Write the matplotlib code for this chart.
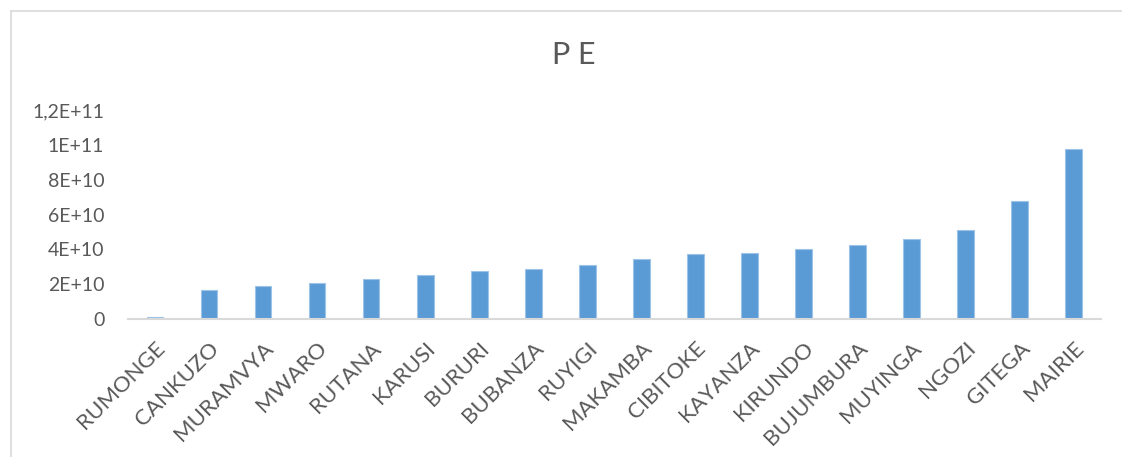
import matplotlib
matplotlib.use("Agg")
from matplotlib import pyplot as plt
from matplotlib.lines import Line2D

provinces = ["RUMONGE", "CANKUZO", "MURAMVYA", "MWARO", "RUTANA", "KARUSI", "BURURI",
             "BUBANZA", "RUYIGI", "MAKAMBA", "CIBITOKE", "KAYANZA", "KIRUNDO",
             "BUJUMBURA", "MUYINGA", "NGOZI", "GITEGA", "MAIRIE"]
pe = [1.2e9, 1.66e10, 1.90e10, 2.06e10, 2.31e10, 2.52e10, 2.77e10,
      2.85e10, 3.08e10, 3.46e10, 3.72e10, 3.81e10, 4.00e10,
      4.24e10, 4.62e10, 5.10e10, 6.77e10, 9.77e10]
y_ticks = [0, 2e10, 4e10, 6e10, 8e10, 1e11, 1.2e11]
y_tick_labels = ["0", "2E+10", "4E+10", "6E+10", "8E+10", "1E+11", "1,2E+11"]

plt.rcParams["font.family"] = ["Lato", "DejaVu Sans"]
text_color = "#595959"

fig = plt.figure(figsize=(11.22, 4.57), dpi=100)
ax = fig.add_axes([0.114, 0.3026, 0.867, 0.4552])

x = range(len(provinces))
ax.bar(x, pe, width=0.31, color="#5B9BD5", edgecolor="#9DC3E6", linewidth=0.8)

ax.set_xlim(-0.5, len(provinces) - 0.5)
ax.set_ylim(0, 1.2e11)
ax.set_yticks(y_ticks)
ax.set_yticklabels(y_tick_labels, fontsize=14, color=text_color)
ax.set_xticks(list(x))
ax.set_xticklabels(provinces, rotation=45, ha="right", rotation_mode="anchor",
                   fontsize=16, color=text_color)
ax.tick_params(axis="y", length=0, pad=17)
ax.tick_params(axis="x", length=0, pad=14)

for side in ("top", "right", "left"):
    ax.spines[side].set_visible(False)
ax.spines["bottom"].set_color("#D9D9D9")
ax.spines["bottom"].set_linewidth(1.5)

fig.text(0.511, 0.88, "P E", ha="center", va="center", fontsize=22, color=text_color)

# chart area frame (left and top edges)
fig.add_artist(Line2D([0.0095, 0.0095], [0, 0.976], color="#D9D9D9", lw=1.2))
fig.add_artist(Line2D([0.0095, 1.0], [0.976, 0.976], color="#D9D9D9", lw=1.2))

fig.savefig("out.png", dpi=100)
